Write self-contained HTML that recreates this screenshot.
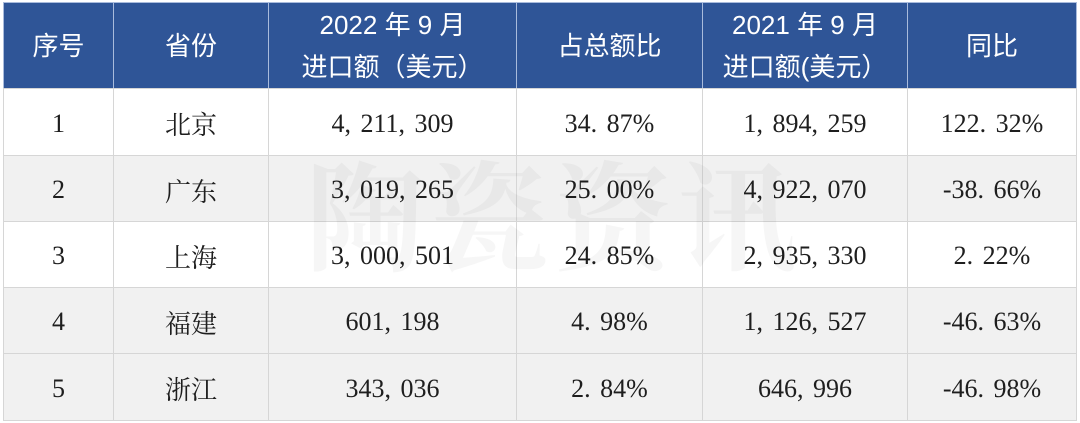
<!DOCTYPE html>
<html>
<head>
<meta charset="utf-8">
<style>
html,body{margin:0;padding:0;background:#fff;}
body{width:1080px;height:423px;position:relative;overflow:hidden;}
table{position:absolute;left:3px;top:2px;border-collapse:collapse;table-layout:fixed;width:1073px;}
td,th{border:1px solid #d6d6d6;text-align:center;vertical-align:middle;padding:0;}
th{background:#2F5597;color:#fff;font-family:"Liberation Sans","Noto Sans CJK SC",sans-serif;font-weight:normal;font-size:26px;line-height:42px;height:86px;box-sizing:border-box;padding:0;border-color:#a9bbdc;border-bottom-color:#d6d6d6;}
td{font-family:"Liberation Serif","Noto Serif CJK SC",serif;font-size:26px;color:#1e1e1e;height:66px;padding-top:3px;box-sizing:border-box;word-spacing:3px;}
tr.g td{background:#f1f1f1;}
tr.t td{height:67px;}
.wm{position:absolute;left:306px;top:140px;font-family:"Noto Serif CJK SC",serif;font-size:118px;line-height:140px;letter-spacing:6px;color:rgba(0,0,0,0.035);white-space:nowrap;pointer-events:none;font-weight:bold;}
</style>
</head>
<body>
<table>
<colgroup>
<col style="width:110px"><col style="width:155px"><col style="width:248px"><col style="width:186px"><col style="width:205px"><col style="width:169px">
</colgroup>
<tr>
<th>序号</th><th>省份</th><th>2022 年 9 月<br>进口额（美元）</th><th>占总额比</th><th>2021 年 9 月<br>进口额(美元）</th><th>同比</th>
</tr>
<tr class="t"><td>1</td><td>北京</td><td>4, 211, 309</td><td>34. 87%</td><td>1, 894, 259</td><td>122. 32%</td></tr>
<tr class="g"><td>2</td><td>广东</td><td>3, 019, 265</td><td>25. 00%</td><td>4, 922, 070</td><td>-38. 66%</td></tr>
<tr><td>3</td><td>上海</td><td>3, 000, 501</td><td>24. 85%</td><td>2, 935, 330</td><td>2. 22%</td></tr>
<tr class="g"><td>4</td><td>福建</td><td>601, 198</td><td>4. 98%</td><td>1, 126, 527</td><td>-46. 63%</td></tr>
<tr class="g t"><td>5</td><td>浙江</td><td>343, 036</td><td>2. 84%</td><td>646, 996</td><td>-46. 98%</td></tr>
</table>
<div class="wm">陶瓷资讯</div>
</body>
</html>
